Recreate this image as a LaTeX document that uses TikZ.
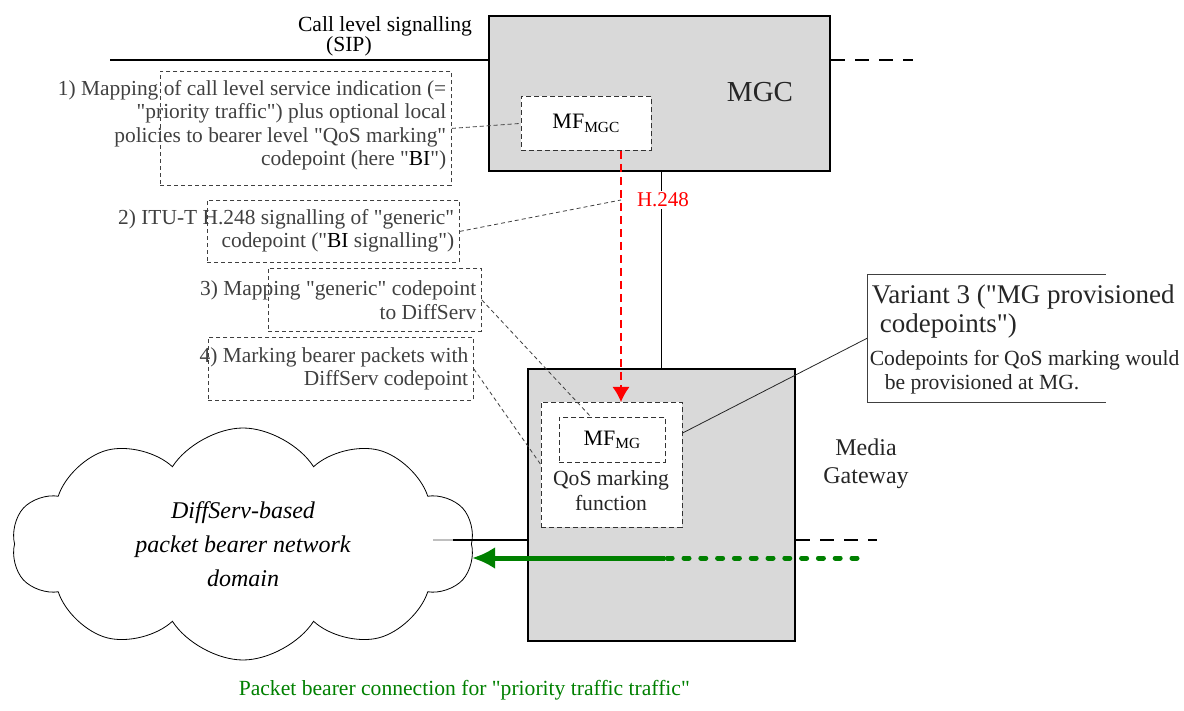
\documentclass[tikz,border=0pt]{standalone}
\usepackage{fontspec}
\setmainfont{Liberation Serif}[Ligatures=TeXOff]
\usetikzlibrary{arrows.meta,positioning,shapes,backgrounds}
\newcommand{\dquote}{\char34\relax}

\begin{document}
\begin{tikzpicture}[x=0.5pt, y=-0.5pt, thick]

	\tikzstyle{netbox}=[rectangle, draw, line width=1pt, fill=gray!30, anchor=north west, inner sep=0pt]
	\tikzstyle{mfbox}=[rectangle, draw=black!80, thin, dash pattern=on 2.5pt off 1.5pt, fill=white, anchor=north west, inner sep=0pt]
	\tikzstyle{notebox}=[rectangle, draw=black!75, thin, dash pattern=on 2pt off 1.5pt, anchor=north west, inner sep=0pt]
	\tikzstyle{note}=[align=right, anchor=east, inner sep=0pt, text=black!75, font=\fontsize{10.7}{11.75}\selectfont]
	\tikzstyle{noteline}=[black!75, thin, dash pattern=on 2pt off 1.5pt]
	\useasboundingbox (0,0) rectangle (1184,711);

		% MGC
		\node[netbox, minimum width=170.5pt, minimum height=77.5pt] (mgc) at (488,15) {};
		\node[text=black!85, font=\fontsize{14.5}{17}\selectfont] (mgclab) at (760,92) {MGC};
		\node[mfbox, minimum width=65pt, minimum height=27pt, font=\fontsize{11}{13}\selectfont] (mfmgc) at (521,96) {MF\textsubscript{MGC}};
		\coordinate (sip) at (110,60);
		\coordinate (sipr) at (913,60);
		\draw[line width=1pt] (sip) -- (mgc.north west |- sip);
		\draw[line width=1pt, dash pattern=on 7pt off 5pt] (mgc.north east |- sip) -- (sipr);
		\node[align=left, inner sep=0pt, font=\fontsize{10.8}{10}\selectfont] (siplab) at (385,36) {Call level signalling\\\hspace*{1.3em}(SIP)};

		% Media Gateway
		\node[netbox, minimum width=133.5pt, minimum height=136pt] (mg) at (527,368) {};
		\node[mfbox, minimum width=70.5pt, minimum height=62.5pt] (qos) at (541,402) {};
		\node[mfbox, minimum width=53pt, minimum height=22.5pt, font=\fontsize{11}{13}\selectfont] (mfmg) at (559,417) {MF\textsubscript{MG}};
		\node[align=center, text=black!85, font=\fontsize{10.8}{12.5}\selectfont] (qoslab) at (611,491) {QoS marking\\function};
		\node[align=center, text=black!85, font=\fontsize{12}{14}\selectfont] (mglab) at (866,464) {Media\\Gateway};

		% H.248 link
		\coordinate (h248p) at (621,200);
		\draw[thin] (mgc.south -| 661,0) -- (mg.north -| 661,0);
		\draw[red, line width=0.6pt, dash pattern=on 4pt off 2.5pt, -{Latex[length=7.5pt, width=8.5pt]}] (mfmgc.south -| h248p) -- (qos.north -| h248p);
		\node[text=red, fill=white, inner sep=1pt, font=\fontsize{10.5}{12}\selectfont] (h248) at (663,200) {H.248};

		% Variant 3
		\node[minimum width=118.5pt, minimum height=63.5pt, anchor=north west, inner sep=0pt] (var3) at (867,274) {};
		\draw[black!75, thin] (var3.north east) -- (var3.north west) -- (var3.south west) -- (var3.south east);
		\node[anchor=north west, align=left, inner sep=0pt, text=black!85, font=\fontsize{13.5}{14.5}\selectfont] (var3title) at (871,284) {Variant 3 (\dquote MG provisioned\\\hspace*{0.3em}codepoints\dquote)};
		\node[anchor=north west, align=left, inner sep=0pt, text=black!85, font=\fontsize{10.8}{12}\selectfont] (var3body) at (869,349) {Codepoints for QoS marking would\\\hspace*{0.7em}be provisioned at MG.};
		\draw[black!85, thin] ([yshift=16pt]qos.east) -- (var3.west);

		% notes
		\node[notebox, minimum width=145.5pt, minimum height=57pt] (lab1b) at (160,71) {};
		\node[note] (lab1) at (447,125) {1) Mapping of call level service indication (=\\\dquote priority traffic\dquote) plus optional local\\policies to bearer level \dquote QoS marking\dquote\\codepoint (here \dquote{\color{black}BI}\dquote)};
		\node[notebox, minimum width=126pt, minimum height=31pt] (lab2b) at (207,200) {};
		\node[note] (lab2) at (455,231) {2) ITU-T H.248 signalling of \dquote generic\dquote\\codepoint (\dquote{\color{black}BI} signalling\dquote)};
		\node[notebox, minimum width=106.5pt, minimum height=31.5pt] (lab3b) at (268,268) {};
		\node[note] (lab3) at (477,300) {3) Mapping \dquote generic\dquote{} codepoint\\to DiffServ};
		\node[notebox, minimum width=132.5pt, minimum height=31.5pt] (lab4b) at (208,337) {};
		\node[note] (lab4) at (469,369) {4) Marking bearer packets with\\DiffServ codepoint};
		\draw[noteline] (lab1b.east) -- (mfmgc.west);
		\draw[noteline] (lab2b.east) -- (h248p);
		\draw[noteline] (lab3b.east) -- ([xshift=16pt]mfmg.north west);
		\draw[noteline] (lab4b.east) -- (qos.west);

		% packet network
		\node[cloud, cloud puffs=10, cloud puff arc=115, aspect=2, draw, thin, minimum width=231pt, minimum height=116pt, align=center, font=\fontsize{12}{17}\selectfont\itshape] (cloud) at (243,544) {DiffServ-based\\packet bearer network\\domain};
		\coordinate (bl) at (433,540);
		\coordinate (blk) at (453,540);
		\coordinate (blr) at (877,540);
		\draw[gray!50, line width=0.8pt] (bl) -- (blk);
		\draw[line width=0.8pt] (blk) -- (mg.west |- bl);
		\draw[line width=0.8pt, dash pattern=on 7pt off 5pt] (mg.east |- bl) -- (blr);

		% bearer connection
		\coordinate (gstart) at (857,558);
		\coordinate (gmid) at (665,558);
		\coordinate (gtip) at (472,558);
		\draw[green!50!black, line width=2.5pt, line cap=round, dash pattern=on 2.5pt off 5.9pt] (gstart) -- (gmid);
		\draw[green!50!black, line width=2.5pt, -{Latex[length=11.5pt, width=11pt]}] (gmid) -- (gtip);
		\node[anchor=west, inner sep=0pt, text=green!50!black, font=\fontsize{10.8}{12}\selectfont] (bearlab) at (238,690) {Packet bearer connection for \dquote priority traffic traffic\dquote};

		\end{tikzpicture}
\end{document}
